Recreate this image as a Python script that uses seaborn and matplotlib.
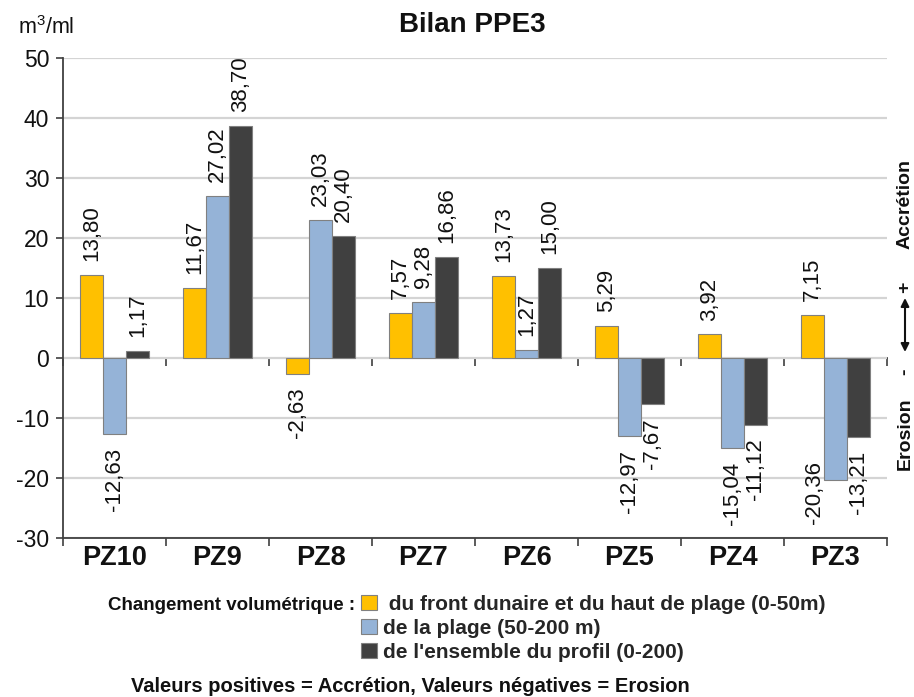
import pandas as pd
import seaborn as sns
import matplotlib.pyplot as plt

profils = ["PZ10", "PZ9", "PZ8", "PZ7", "PZ6", "PZ5", "PZ4", "PZ3"]
series = [
    " du front dunaire et du haut de plage (0-50m)",
    "de la plage (50-200 m)",
    "de l'ensemble du profil (0-200)",
]
front = [13.80, 11.67, -2.63, 7.57, 13.73, 5.29, 3.92, 7.15]
plage = [-12.63, 27.02, 23.03, 9.28, 1.27, -12.97, -15.04, -20.36]
ensemble = [1.17, 38.70, 20.40, 16.86, 15.00, -7.67, -11.12, -13.21]
couleurs = ["#FFC000", "#95B3D7", "#404040"]
yticks = [-30, -20, -10, 0, 10, 20, 30, 40, 50]

df = pd.DataFrame({
    "profil": profils * 3,
    "serie": [series[0]] * 8 + [series[1]] * 8 + [series[2]] * 8,
    "valeur": front + plage + ensemble,
})

sns.set_theme(style="white")
plt.rcParams["font.family"] = ["Liberation Sans", "DejaVu Sans"]
plt.rcParams["mathtext.default"] = "regular"

fig = plt.figure(figsize=(9.14, 6.97), dpi=100)
ax = fig.add_axes([63 / 914, 1 - 538 / 697, 824 / 914, 480 / 697])

sns.barplot(
    data=df,
    x="profil",
    y="valeur",
    hue="serie",
    order=profils,
    hue_order=series,
    palette=couleurs,
    saturation=1,
    width=0.67,
    edgecolor="#808080",
    linewidth=0.8,
    ax=ax,
)

handles, labels = ax.get_legend_handles_labels()
ax.get_legend().remove()

# value labels, french decimal comma
for cont, vals in zip(ax.containers, [front, plage, ensemble]):
    txts = ax.bar_label(
        cont,
        labels=[f"{v:.2f}".replace(".", ",") for v in vals],
        rotation=90,
        padding=10,
        fontsize=16,
        color="#111111",
    )
    # Excel pushed the PZ3 beach label beside its bar
    for t, v in zip(txts, vals):
        if v == -20.36:
            t.xyann = (-15, 14)

ax.set_ylim(-30, 50)
ax.set_xlim(-0.5, len(profils) - 0.5)
ax.set_yticks(yticks)
ax.set_yticklabels([str(t) for t in yticks], fontsize=16.5)
ax.set_xticks(range(len(profils)))
ax.set_xticklabels(profils, fontsize=19.5, fontweight="bold")
ax.set_xticks([i - 0.5 for i in range(len(profils) + 1)], minor=True)
ax.set_xlabel("")
ax.set_ylabel("")

ax.yaxis.grid(True, color="#d4d4d4", linewidth=1.6)
ax.set_axisbelow(True)
for s in ["top", "right"]:
    ax.spines[s].set_visible(False)
for s in ["left", "bottom"]:
    ax.spines[s].set_color("#404040")
    ax.spines[s].set_linewidth(1.3)

ax.tick_params(axis="y", left=True, length=5, width=1.2, color="#404040", pad=5, labelcolor="#111111")
ax.tick_params(axis="x", which="major", length=0, pad=5, labelcolor="#111111")
ax.tick_params(axis="x", which="minor", bottom=True, length=6, width=1.2, color="#404040")

# zero line with category separators
zero = ax.secondary_xaxis((0 - yticks[0]) / (yticks[-1] - yticks[0]))
zero.set_xticks([i - 0.5 for i in range(len(profils) + 1)], labels=[])
zero.tick_params(length=6, width=1.2, color="#404040")
zero.spines["bottom"].set_color("#404040")
zero.spines["bottom"].set_linewidth(1.3)

fig.text(472 / 914, 1 - 25 / 697, "Bilan PPE3", ha="center", va="center",
         fontsize=20, fontweight="bold", color="#111111")
fig.text(18 / 914, 1 - 28 / 697, "m$^3$/ml", ha="left", va="center",
         fontsize=15.5, color="#111111")

# right side annotation
xr = 905 / 914
fig.text(xr, 1 - 204 / 697, "Accrétion", rotation=90, ha="center", va="center",
         fontsize=14, fontweight="bold", color="#111111")
fig.text(xr, 1 - 287 / 697, "+", rotation=90, ha="center", va="center",
         fontsize=14, fontweight="bold", color="#111111")
fig.text(xr, 1 - 372 / 697, "-", rotation=90, ha="center", va="center",
         fontsize=14, fontweight="bold", color="#111111")
fig.text(xr, 1 - 434 / 697, "Erosion", rotation=90, ha="center", va="center",
         fontsize=14, fontweight="bold", color="#111111")
ax.annotate("", xy=(xr, 1 - 298 / 697), xytext=(xr, 1 - 352 / 697),
            xycoords="figure fraction", textcoords="figure fraction",
            arrowprops=dict(arrowstyle="<|-|>", color="#111111", lw=1.5,
                            mutation_scale=12, shrinkA=0, shrinkB=0))

# legend block
fig.text(355 / 914, 1 - 606 / 697, "Changement volumétrique :", ha="right",
         va="center", fontsize=13.5, fontweight="bold", color="#111111")
fig.legend(
    handles, labels,
    loc="upper left",
    bbox_to_anchor=(361 / 914, 1 - 595 / 697),
    frameon=False,
    prop={"weight": "bold", "size": 15},
    handlelength=0.75,
    handleheight=0.75,
    handletextpad=0.3,
    labelspacing=0.24,
    borderpad=0,
    borderaxespad=0,
)
fig.text(410 / 914, 1 - 687 / 697,
         "Valeurs positives = Accrétion, Valeurs négatives = Erosion",
         ha="center", va="center", fontsize=14.5, fontweight="bold", color="#111111")

plt.savefig("out.png", dpi=100)
